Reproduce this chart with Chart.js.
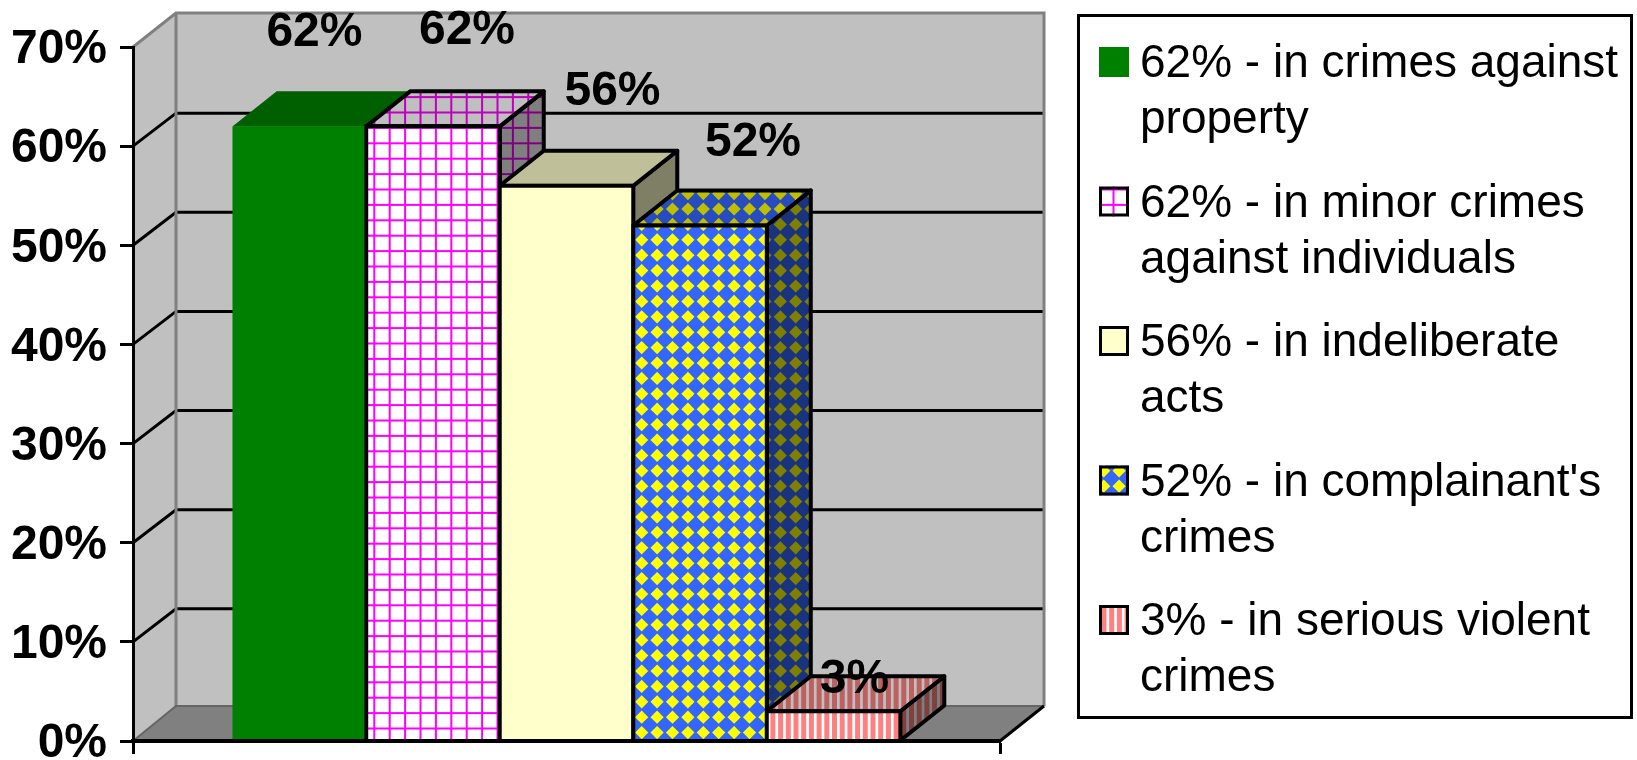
<!DOCTYPE html>
<html>
<head>
<meta charset="utf-8">
<style>
  html, body { margin: 0; padding: 0; background: #fff; overflow: hidden; }
  canvas { display: block; }
</style>
<script src="https://cdn.jsdelivr.net/npm/chart.js@4/dist/chart.umd.min.js"></script>
</head>
<body>
<canvas id="crimeChart" width="1637" height="760"></canvas>
<script>
'use strict';

var categories = [''];
var seriesValues = [62, 62, 56, 52, 3];
var seriesLegend = [
  ['62% - in crimes against', 'property'],
  ['62% - in minor crimes', 'against individuals'],
  ['56% - in indeliberate', 'acts'],
  ["52% - in complainant's", 'crimes'],
  ['3% - in serious violent', 'crimes']
];
var yTicks = [0, 10, 20, 30, 40, 50, 60, 70];

// hand placed data labels, relative to the top centre of each bar
var labelShiftX = [15, 34, 46, 53, 21];
var labelShiftY = [-94, -96, -94, -83, -31];

var fontName = '"Liberation Sans", Arial, sans-serif';
var wallDepthX = 43;
var wallDepthY = 33;
var barDepthX = 44;
var barDepthY = 35;

// tile painters, one per series
var makeTile = function(size, paint, shade) {
  var tile = document.createElement('canvas');
  tile.width = size;
  tile.height = size;
  var c = tile.getContext('2d');
  paint(c, size);
  if (shade > 0) {
    c.fillStyle = 'rgba(0,0,0,' + shade + ')';
    c.fillRect(0, 0, size, size);
  }
  return c.createPattern(tile, 'repeat');
};

var paintSolid = function(color) {
  return function(c, size) {
    c.fillStyle = color;
    c.fillRect(0, 0, size, size);
  };
};

var paintGrid = function(c, size) {
  c.fillStyle = '#fff';
  c.fillRect(0, 0, size, size);
  c.fillStyle = '#ff00ff';
  for (var i = 0; i < 5; i++) {
    c.fillRect(3.7 + i * 15.4, 0, 2, size);
    c.fillRect(0, 3.7 + i * 15.4, size, 2);
  }
};

var paintDiamonds = function(c, size) {
  c.fillStyle = '#3366ff';
  c.fillRect(0, 0, size, size);
  c.fillStyle = '#ffff00';
  for (var i = -1; i < 6; i++) {
    for (var j = -1; j < 6; j++) {
      var cx = 10.3 + i * 15.4;
      var cy = 8.8 + j * 15.4;
      c.beginPath();
      c.moveTo(cx - 6.6, cy);
      c.lineTo(cx, cy - 6.6);
      c.lineTo(cx + 6.6, cy);
      c.lineTo(cx, cy + 6.6);
      c.closePath();
      c.fill();
    }
  }
};

var paintStripes = function(c, size) {
  c.fillStyle = '#ff8080';
  c.fillRect(0, 0, size, size);
  c.fillStyle = '#fff';
  for (var i = -1; i < 11; i++) {
    c.fillRect(5.4 + i * 7.7, 0, 2.7, size);
  }
};

var painters = [paintSolid('#008000'), paintGrid, paintSolid('#ffffcc'), paintDiamonds, paintStripes];
var tileSizes = [8, 77, 8, 77, 77];
var barBorders = [0, 4, 4, 4, 4];

var frontFills = painters.map(function(p, i) { return makeTile(tileSizes[i], p, 0); });
var topFills = painters.map(function(p, i) { return makeTile(tileSizes[i], p, 0.25); });
var sideFills = painters.map(function(p, i) { return makeTile(tileSizes[i], p, 0.5); });

var polygon = function(ctx, points, fill, stroke, width) {
  ctx.beginPath();
  ctx.moveTo(points[0][0], points[0][1]);
  for (var i = 1; i < points.length; i++) {
    ctx.lineTo(points[i][0], points[i][1]);
  }
  ctx.closePath();
  if (fill) {
    ctx.fillStyle = fill;
    ctx.fill();
  }
  if (stroke && width) {
    ctx.strokeStyle = stroke;
    ctx.lineWidth = width;
    ctx.lineJoin = 'round';
    ctx.stroke();
  }
};

// walls, floor and the grid lines running round them
var wallsPlugin = {
  id: 'walls',
  beforeDraw: function(chart) {
    var ctx = chart.ctx;
    var xs = chart.scales.x;
    var ys = chart.scales.y;
    var left = xs.left;
    var right = xs.right;
    var top = ys.getPixelForValue(70);
    var base = ys.getPixelForValue(0);
    var backLeft = left + wallDepthX;
    var backRight = right + wallDepthX + 1;
    var backTop = top - wallDepthY - 1;
    var backBase = base - wallDepthY - 2;

    ctx.save();
    polygon(ctx, [[backLeft, backTop], [backRight, backTop], [backRight, backBase], [backLeft, backBase]], '#c0c0c0');
    polygon(ctx, [[left, top], [backLeft, backTop], [backLeft, backBase], [left, base]], '#c0c0c0');
    polygon(ctx, [[left, base], [backLeft, backBase], [backRight, backBase], [right, base]], '#808080');

    ctx.lineCap = 'butt';
    yTicks.forEach(function(v) {
      if (v === 0 || v === 70) {
        return;
      }
      var y = ys.getPixelForValue(v);
      ctx.strokeStyle = '#000';
      ctx.lineWidth = 3;
      ctx.beginPath();
      ctx.moveTo(left, y);
      ctx.lineTo(backLeft, y - wallDepthY);
      ctx.lineTo(backRight, y - wallDepthY);
      ctx.stroke();
    });

    ctx.strokeStyle = '#808080';
    ctx.lineWidth = 3;
    ctx.beginPath();
    ctx.moveTo(left, top);
    ctx.lineTo(backLeft, backTop);
    ctx.lineTo(backRight, backTop);
    ctx.lineTo(backRight, backBase);
    ctx.moveTo(backLeft, backTop);
    ctx.lineTo(backLeft, backBase);
    ctx.stroke();

    ctx.strokeStyle = '#666';
    ctx.lineWidth = 2;
    ctx.beginPath();
    ctx.moveTo(left, base);
    ctx.lineTo(backLeft, backBase);
    ctx.lineTo(backRight, backBase);
    ctx.stroke();

    ctx.strokeStyle = '#000';
    ctx.lineWidth = 3;
    ctx.beginPath();
    ctx.moveTo(right, base);
    ctx.lineTo(backRight, backBase);
    ctx.stroke();
    ctx.restore();
  },
  // top and side faces of the bars, left to right so each one covers the last
  beforeDatasetsDraw: function(chart) {
    var ctx = chart.ctx;
    ctx.save();
    seriesValues.forEach(function(v, i) {
      var bar = chart.getDatasetMeta(i).data[0];
      var half = bar.width / 2;
      var l = bar.x - half;
      var r = bar.x + half;
      var t = bar.y;
      var b = bar.base;
      var edge = barBorders[i] ? '#000' : null;
      polygon(ctx, [[r, t], [r + barDepthX, t - barDepthY], [r + barDepthX, b - barDepthY], [r, b]], sideFills[i], edge, barBorders[i]);
      polygon(ctx, [[l, t], [l + barDepthX, t - barDepthY], [r + barDepthX, t - barDepthY], [r, t]], topFills[i], edge, barBorders[i]);
    });
    ctx.restore();
  },
  // data labels and legend box
  afterDatasetsDraw: function(chart) {
    var ctx = chart.ctx;
    ctx.save();
    // library paints the last bar first, so repaint left to right to keep each left border
    seriesValues.forEach(function(v, i) {
      chart.getDatasetMeta(i).data[0].draw(ctx);
    });

    ctx.fillStyle = '#000';
    ctx.textAlign = 'center';
    ctx.textBaseline = 'middle';
    ctx.font = 'bold 48px ' + fontName;
    seriesValues.forEach(function(v, i) {
      var bar = chart.getDatasetMeta(i).data[0];
      ctx.fillText(v + '%', bar.x + labelShiftX[i], bar.y + labelShiftY[i]);
    });

    ctx.strokeStyle = '#000';
    ctx.lineWidth = 3;
    ctx.strokeRect(1078.5, 15.5, 553, 702);
    ctx.textAlign = 'left';
    ctx.textBaseline = 'alphabetic';
    ctx.font = '46px ' + fontName;
    seriesLegend.forEach(function(lines, i) {
      var baseline = 77 + i * 139.5;
      ctx.fillStyle = frontFills[i];
      ctx.fillRect(1099, baseline - 30, 30, 30);
      if (barBorders[i]) {
        ctx.strokeStyle = '#000';
        ctx.strokeRect(1100.5, baseline - 28.5, 27, 27);
      }
      ctx.fillStyle = '#000';
      lines.forEach(function(line, n) {
        ctx.fillText(line, 1140, baseline + n * 56);
      });
    });
    ctx.restore();
  }
};

var datasets = seriesValues.map(function(v, i) {
  return {
    label: seriesLegend[i].join(' '),
    data: [v],
    backgroundColor: frontFills[i],
    borderColor: '#000',
    borderWidth: barBorders[i],
    inflateAmount: barBorders[i] / 2,
    barPercentage: 1,
    categoryPercentage: 0.77
  };
});

var myChart = new Chart(document.getElementById('crimeChart').getContext('2d'), {
  type: 'bar',
  data: { labels: categories, datasets: datasets },
  plugins: [wallsPlugin],
  options: {
    responsive: false,
    animation: false,
    devicePixelRatio: 1,
    layout: { padding: { top: 47, right: 637, left: 0, bottom: 0 } },
    plugins: { legend: { display: false }, tooltip: { enabled: false } },
    scales: {
      x: {
        afterFit: function(scale) { scale.height = 19; },
        ticks: { display: false },
        grid: { drawOnChartArea: false, tickColor: '#000', tickWidth: 3, tickLength: 13 },
        border: { color: '#000', width: 4, z: 1 }
      },
      y: {
        min: 0,
        max: 70,
        afterFit: function(scale) {
          scale.width = 133;
          // the 0% label may hang below the plot, as in the picture
          scale.paddingTop = 0;
          scale.paddingBottom = 0;
        },
        afterBuildTicks: function(scale) {
          scale.ticks = yTicks.map(function(v) { return { value: v }; });
        },
        ticks: {
          padding: 13,
          labelOffset: 3,
          color: '#000',
          font: { family: fontName, size: 48, weight: 'bold' },
          callback: function(v) { return v + '%'; }
        },
        grid: { drawOnChartArea: false, tickColor: '#000', tickWidth: 3, tickLength: 13 },
        border: { color: '#000', width: 3 }
      }
    }
  }
});
</script>
</body>
</html>
